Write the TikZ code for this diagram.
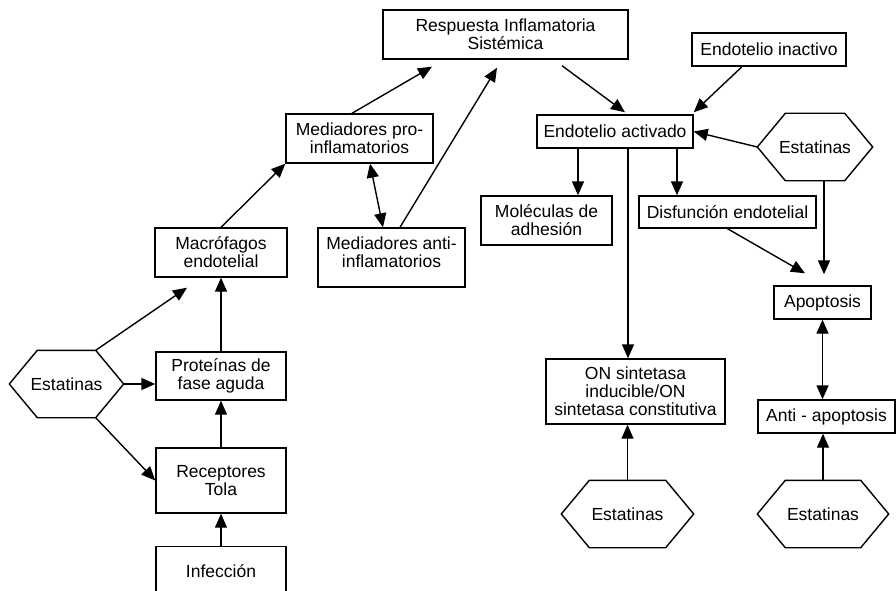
\documentclass[tikz,border=0pt]{standalone}
\usepackage{fontspec}
\setmainfont{Liberation Sans}
\usepackage{tikz}
\usetikzlibrary{arrows.meta}
\tikzset{
	caja/.style={draw, line width=1.4pt, align=center, inner sep=0pt, font=\fontsize{17.5}{18}\selectfont},
	flecha/.style={line width=1.4pt, -{Triangle[length=14pt,width=12pt]}},
	doble/.style={line width=1.4pt, {Triangle[length=14pt,width=12pt]}-{Triangle[length=14pt,width=12pt]}}
}
\newcommand{\estatinas}[4][113] % [ancho]{nombre}{x}{y}
{
	\node [caja, draw=none, minimum width=#1pt, minimum height=66pt] (#2) at (#3,#4) {Estatinas};
	\draw [line width=1.4pt] (#2.west) -- ([xshift=28pt]#2.north west) -- ([xshift=-28pt]#2.north east) -- (#2.east) -- ([xshift=-28pt]#2.south east) -- ([xshift=28pt]#2.south west) -- cycle;
}

\begin{document}
\begin{tikzpicture}[x=1pt,y=-1pt]
		\useasboundingbox (0,0) rectangle (896,591);
		\clip (0,0) rectangle (896,591);

		% lado izquierdo
		\node [caja, minimum width=130pt, minimum height=49pt] (infec) at (221,571) {Infección};
		\node [caja, minimum width=130pt, minimum height=65pt] (recep) at (221,480.5) {Receptores\\Tola};
		\node [caja, minimum width=130pt, minimum height=48pt] (prot) at (221,376) {Proteínas de\\fase aguda};
		\node [caja, minimum width=132pt, minimum height=49pt] (macro) at (221,252.5) {Macrófagos\\endotelial};
		\node [caja, minimum width=147pt, minimum height=49pt] (pro) at (359.5,138.5) {Mediadores pro-\\inflamatorios};
		\node [caja, minimum width=147pt, minimum height=59pt, text depth=10pt] (antiinf) at (391.5,257.5) {Mediadores anti-\\inflamatorios};
		\node [caja, minimum width=245pt, minimum height=49pt] (resp) at (505.5,34.5) {Respuesta Inflamatoria\\Sistémica};
		\estatinas[113]{hexL}{66.5}{384}

		% lado derecho
		\node [caja, minimum width=154pt, minimum height=33pt] (inact) at (769,49.5) {Endotelio inactivo};
		\node [caja, minimum width=156pt, minimum height=33pt] (activ) at (615,131.5) {Endotelio activado};
		\node [caja, minimum width=131pt, minimum height=49pt] (molec) at (546.5,220.5) {Moléculas de\\adhesión};
		\node [caja, minimum width=177pt, minimum height=32pt] (disf) at (727.5,212) {Disfunción endotelial};
		\node [caja, minimum width=97pt, minimum height=33pt] (apop) at (822.5,302.5) {Apoptosis};
		\node [caja, minimum width=137pt, minimum height=33pt] (antiap) at (826.5,416.5) {Anti - apoptosis};
		\node [caja, minimum width=179pt, minimum height=65pt] (onsint) at (635.5,391.5) {ON sintetasa\\inducible/ON\\sintetasa constitutiva};
		\estatinas[114]{hexR}{815}{147}
		\estatinas[131]{hexM}{627.5}{514}
		\estatinas[130]{hexBR}{823}{514}

		% flechas izquierda
		\draw [flecha] (infec) -- (recep);
		\draw [flecha] (recep) -- (prot);
		\draw [flecha] (prot) -- (macro);
		\draw [flecha] (hexL.east) -- (hexL.east -| prot.west);
		\draw [flecha] ([xshift=-28pt]hexL.north east) -- ([xshift=-34pt,yshift=-10pt]macro.south);
		\draw [flecha] ([xshift=-28pt]hexL.south east) -- (recep.west);
		\draw [flecha] (macro.north) -- (pro.south west);
		\draw [doble] ([xshift=10.5pt]pro.south) -- ([xshift=-8.5pt]antiinf.north);
		\draw [flecha] ([xshift=-7.5pt]pro.north) -- ([xshift=-73.5pt,yshift=-7pt]resp.south);
		\draw [flecha] ([xshift=8.5pt]antiinf.north) -- ([xshift=-8.5pt,yshift=-8pt]resp.south);

		% flechas derecha
		\draw [flecha] ([xshift=56.5pt,yshift=-6pt]resp.south) -- ([xshift=10pt,yshift=2pt]activ.north);
		\draw [flecha] ([xshift=-27pt]inact.south) -- ([yshift=2pt]activ.north east);
		\draw [flecha] (hexR.west) -- (activ.east);
		\draw [flecha] ([xshift=-37pt]activ.south) -- ([xshift=-37pt]activ.south |- molec.north);
		\draw [flecha] ([xshift=13pt]activ.south) -- ([xshift=13pt]activ.south |- onsint.north);
		\draw [flecha] ([xshift=62pt]activ.south) -- ([xshift=62pt]activ.south |- disf.north);
		\draw [flecha] (disf.south) -- ([xshift=-17.5pt,yshift=12pt]apop.north);
		\draw [flecha] ([xshift=9pt]hexR.south) -- ([xshift=1.5pt,yshift=11pt]apop.north);
		\draw [doble] (apop.south) -- (apop.south |- antiap.north);
		\draw [flecha] (hexBR.north) -- (hexBR.north |- antiap.south);
		\draw [flecha] (hexM.north) -- (hexM.north |- onsint.south);
	\end{tikzpicture}
\end{document}
